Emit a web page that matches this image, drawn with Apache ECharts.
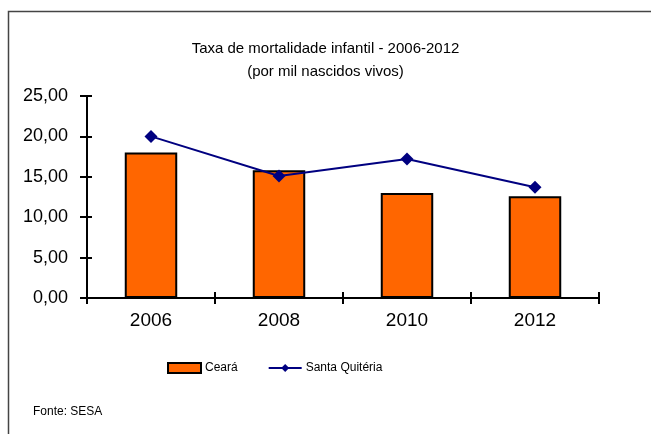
<!DOCTYPE html>
<html>
<head>
	<meta charset="UTF-8">
	<title>Taxa de mortalidade infantil</title>
	<style>
		html, body { margin: 0; padding: 0; background: #fff; }
		#main { width: 651px; height: 434px; }
	</style>
</head>
<body>
	<div id="main"></div>
	<script src="https://cdn.jsdelivr.net/npm/echarts@6/dist/echarts.min.js"></script>
	<script type="text/javascript">
		var years = ['2006', '2008', '2010', '2012'];
		var ceara = [18.0, 15.8, 13.0, 12.6];
		var santaQuiteria = [20.0, 15.1, 17.2, 13.7];
		var yTicks = [0, 5, 10, 15, 20, 25];

		var chart = echarts.init(document.getElementById('main'));
		var font = 'Liberation Sans, Arial, sans-serif';

		function fmt(v) {
			return v.toFixed(2).replace('.', ',');
		}

		var option = {
			backgroundColor: '#fff',
			animation: false,
			title: {
				text: 'Taxa de mortalidade infantil - 2006-2012\n(por mil nascidos vivos)',
				left: 'center',
				top: 32,
				textStyle: {
					fontFamily: font,
					fontSize: 15,
					fontWeight: 'normal',
					color: '#000',
					lineHeight: 23
				}
			},
			legend: {
				left: 167,
				top: 362,
				padding: 0,
				itemWidth: 33,
				itemHeight: 10,
				itemGap: 30,
				textStyle: { fontFamily: font, fontSize: 12, color: '#000', padding: [0, 0, 0, -1] },
				data: [
					{ name: 'Ceará', icon: 'rect', itemStyle: { color: '#FF6600', borderColor: '#000', borderWidth: 2 } },
					{ name: 'Santa Quitéria' }
				]
			},
			grid: { left: 87, right: 52, top: 96, bottom: 136 },
			xAxis: [{
				type: 'category',
				data: years,
				position: 'bottom',
				axisLine: { lineStyle: { color: '#000', width: 2 } },
				axisTick: { show: true, length: 6, lineStyle: { color: '#000', width: 2 } },
				axisLabel: { fontFamily: font, fontSize: 19, color: '#000', margin: 13 }
			}, {
				type: 'category',
				data: years,
				position: 'bottom',
				axisLine: { show: false },
				axisTick: { show: true, inside: true, length: 6, lineStyle: { color: '#000', width: 2 } },
				axisLabel: { show: false }
			}],
			yAxis: [{
				type: 'value',
				min: yTicks[0],
				max: yTicks[yTicks.length - 1],
				interval: 5,
				splitLine: { show: false },
				axisLine: { show: true, lineStyle: { color: '#000', width: 2 } },
				axisTick: { show: true, length: 7, lineStyle: { color: '#000', width: 2 } },
				axisLabel: { fontFamily: font, fontSize: 18, color: '#000', margin: 19, formatter: fmt }
			}, {
				type: 'value',
				position: 'left',
				min: yTicks[0],
				max: yTicks[yTicks.length - 1],
				interval: 5,
				splitLine: { show: false },
				axisLine: { show: false },
				axisTick: { show: true, inside: true, length: 5, lineStyle: { color: '#000', width: 2 } },
				axisLabel: { show: false }
			}],
			series: [{
				name: 'Ceará',
				type: 'bar',
				data: ceara,
				barWidth: '41%',
				itemStyle: { color: '#FF6600', borderColor: '#000', borderWidth: 2 }
			}, {
				name: 'Santa Quitéria',
				type: 'line',
				data: santaQuiteria,
				symbol: 'diamond',
				symbolSize: 13,
				lineStyle: { color: '#000080', width: 2 },
				itemStyle: { color: '#000080' },
				z: 5
			}],
			graphic: [{
				type: 'rect',
				shape: { x: 8.5, y: 11.5, width: 700, height: 500 },
				style: { fill: 'none', stroke: '#444', lineWidth: 1.5 },
				silent: true
			}, {
				type: 'text',
				left: 33,
				top: 406,
				style: { text: 'Fonte: SESA', fontFamily: font, fontSize: 12, fill: '#000' }
			}]
		};

		chart.setOption(option);
	</script>
</body>
</html>
